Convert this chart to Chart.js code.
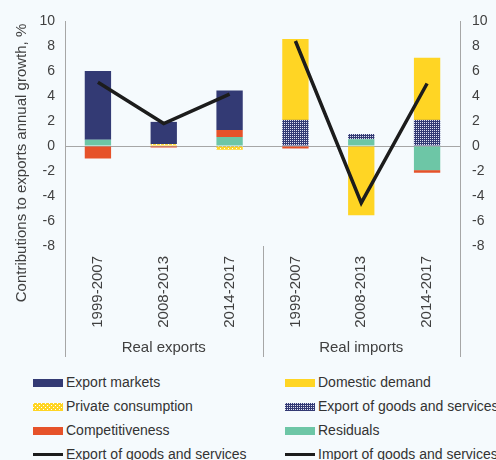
<!DOCTYPE html>
<html>
<head>
<meta charset="utf-8">
<script src="https://cdn.jsdelivr.net/npm/chart.js@4.4.1/dist/chart.umd.min.js"></script>
<style>
    body { margin: 0; background: #f5fafd; font-family: "Liberation Sans", Arial, sans-serif; }
    #wrap { position: relative; width: 496px; height: 365px; }
    #legend { position: relative; width: 496px; height: 95px; }
    .item { position: absolute; height: 24px; line-height: 24px; font-size: 14px; color: #333; white-space: nowrap; }
    .sw { position: absolute; left: 0; width: 30px; }
    .item span.t { position: absolute; left: 33px; }
</style>
</head>
<body>
<div id="wrap"><canvas id="chart"></canvas></div>
<div id="legend"></div>
<script>
const categories = ['1999-2007', '2008-2013', '2014-2017', '1999-2007', '2008-2013', '2014-2017'];
const groups = ['Real exports', 'Real imports'];
const yTicks = { min: -8, max: 10, step: 2 };

const exportMarkets = [5.5, 1.78, 3.16, null, null, null];
const privateConsumption = [0, 0.15, -0.3, null, null, null];
const competitiveness = [-1.0, -0.12, 0.56, -0.2, 0, -0.21];
const residuals = [0.5, 0, 0.72, 0, 0.54, -1.93];
const exportGoods = [null, null, null, 2.09, 0.42, 2.09];
const domesticDemand = [null, null, null, 6.47, -5.54, 4.97];
const exportLine = [5.1, 1.8, 4.15, null, null, null];
const importLine = [null, null, null, 8.4, -4.55, 5.0];

const NAVY = '#333a74';
const YELLOW = '#ffd524';
const RED = '#e6522a';
const TEAL = '#6dc6a6';
const LINE = '#1c1c1c';
const TEXT = '#404040';
const AXIS = '#a6a6a6';

function makeTile(bg, dot, dots) {
    const c = document.createElement('canvas');
    c.width = 4;
    c.height = 4;
    const g = c.getContext('2d');
    g.fillStyle = bg;
    g.fillRect(0, 0, 4, 4);
    g.fillStyle = dot;
    dots.forEach(p => g.fillRect(p[0], p[1], 1, 1));
    return c;
}
const consTile = makeTile(YELLOW, '#ffffff', [[0, 0], [2, 2]]);
const goodsTile = makeTile(NAVY, '#dfe2f2', [[0, 0], [2, 0], [0, 2], [2, 2]]);
const ctx = document.getElementById('chart').getContext('2d');
const consPattern = ctx.createPattern(consTile, 'repeat');
const goodsPattern = ctx.createPattern(goodsTile, 'repeat');

// y title + group labels + separators
const extras = {
    id: 'extras',
    afterDraw(chart) {
        const c = chart.ctx;
        const x = chart.scales.x;
        const area = chart.chartArea;
        const bottom = 357;
        c.save();
        c.strokeStyle = AXIS;
        c.lineWidth = 1;
        const mid = (x.getPixelForValue(2) + x.getPixelForValue(3)) / 2;
        c.beginPath();
        c.moveTo(area.left + 0.5, area.top);
        c.lineTo(area.left + 0.5, bottom);
        c.moveTo(area.right + 0.5, area.top);
        c.lineTo(area.right + 0.5, bottom);
        c.moveTo(Math.round(mid) + 0.5, area.bottom);
        c.lineTo(Math.round(mid) + 0.5, bottom);
        c.stroke();

        c.fillStyle = TEXT;
        c.font = '15px "Liberation Sans", Arial, sans-serif';
        c.textAlign = 'center';
        c.textBaseline = 'middle';
        c.fillText(groups[0], (area.left + mid) / 2, 348);
        c.fillText(groups[1], (mid + area.right) / 2, 348);

        c.translate(22, 163);
        c.rotate(-Math.PI / 2);
        c.fillText('Contributions to exports annual growth, %', 0, 0);
        c.restore();
    }
};

const tickFont = { family: '"Liberation Sans", Arial, sans-serif', size: 14 };

const chart = new Chart(ctx, {
    type: 'bar',
    data: {
        labels: categories,
        datasets: [
            { label: 'Private consumption', data: privateConsumption, backgroundColor: consPattern, order: 1 },
            { label: 'Residuals', data: residuals, backgroundColor: TEAL, order: 1 },
            { label: 'Competitiveness', data: competitiveness, backgroundColor: RED, order: 1 },
            { label: 'Export of goods and services', data: exportGoods, backgroundColor: goodsPattern, order: 1 },
            { label: 'Export markets', data: exportMarkets, backgroundColor: NAVY, order: 1 },
            { label: 'Domestic demand', data: domesticDemand, backgroundColor: YELLOW, order: 1 },
            { type: 'line', label: 'Export of goods and services', data: exportLine, stack: 'l1',
              borderColor: LINE, backgroundColor: LINE, borderWidth: 3.5, pointRadius: 0, order: 0 },
            { type: 'line', label: 'Import of goods and services', data: importLine, stack: 'l2',
              borderColor: LINE, backgroundColor: LINE, borderWidth: 3.5, pointRadius: 0, order: 0 }
        ]
    },
    options: {
        responsive: true,
        maintainAspectRatio: false,
        animation: false,
        layout: { padding: { top: 21, left: 0, right: 0, bottom: 0 } },
        datasets: { bar: { categoryPercentage: 1, barPercentage: 0.4 } },
        plugins: { legend: { display: false }, tooltip: { enabled: false } },
        scales: {
            x: {
                stacked: true,
                grid: { display: false, drawTicks: false },
                border: { display: false },
                ticks: { color: TEXT, font: { family: tickFont.family, size: 15 }, minRotation: 90, maxRotation: 90, padding: 10, autoSkip: false },
                afterFit(s) { s.height = 119; }
            },
            y: {
                stacked: true,
                min: yTicks.min,
                max: yTicks.max,
                ticks: { stepSize: yTicks.step, color: TEXT, font: tickFont, padding: 10 },
                grid: { drawTicks: false, color: c => c.tick && c.tick.value === 0 ? AXIS : 'transparent' },
                border: { display: false },
                afterFit(s) { s.width = 65; }
            },
            y2: {
                position: 'right',
                min: yTicks.min,
                max: yTicks.max,
                ticks: { stepSize: yTicks.step, color: TEXT, font: tickFont, padding: 12 },
                grid: { display: false, drawTicks: false },
                border: { display: false },
                afterFit(s) { s.width = 36; }
            }
        }
    },
    plugins: [extras]
});

// legend, two columns in the original row order
const legendOrder = [
    ['Export markets', NAVY, 'bar'],
    ['Domestic demand', YELLOW, 'bar'],
    ['Private consumption', consTile, 'bar'],
    ['Export of goods and services', goodsTile, 'bar'],
    ['Competitiveness', RED, 'bar'],
    ['Residuals', TEAL, 'bar'],
    ['Export of goods and services', LINE, 'line'],
    ['Import of goods and services', LINE, 'line']
];
const legend = document.getElementById('legend');
legendOrder.forEach((it, i) => {
    const col = i % 2;
    const row = Math.floor(i / 2);
    const d = document.createElement('div');
    d.className = 'item';
    d.style.left = (col ? 285 : 33) + 'px';
    d.style.top = (5 + row * 24) + 'px';
    const sw = document.createElement('div');
    sw.className = 'sw';
    if (it[2] === 'line') {
        sw.style.height = '3px';
        sw.style.top = '11px';
        sw.style.background = it[1];
    } else {
        sw.style.height = '8px';
        sw.style.top = '9px';
        if (typeof it[1] === 'string') sw.style.background = it[1];
        else sw.style.backgroundImage = 'url(' + it[1].toDataURL() + ')';
    }
    const t = document.createElement('span');
    t.className = 't';
    t.textContent = it[0];
    d.appendChild(sw);
    d.appendChild(t);
    legend.appendChild(d);
});
</script>
</body>
</html>
